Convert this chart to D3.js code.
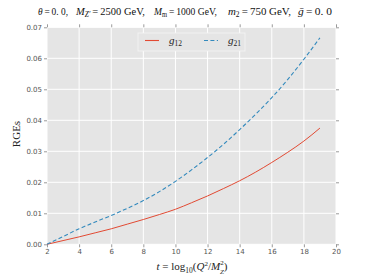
<!DOCTYPE html>
<html><head><meta charset="utf-8">
<script src="https://cdn.jsdelivr.net/npm/d3@7"></script>
<style>body{margin:0;background:#fff}svg{display:block}</style>
</head><body><svg id="c" width="374" height="280"></svg>
<script>
const tValues = [2,3,4,5,6,7,8,9,10,11,12,13,14,15,16,17,18,19];
const g12 = [0,0.0012,0.0024,0.0037,0.0050,0.0065,0.0080,0.0096,0.0113,0.0134,0.0156,0.0180,0.0205,0.0233,0.0264,0.0297,0.0333,0.0375];
const g21 = [0,0.0025,0.0050,0.0072,0.0093,0.0116,0.0141,0.0170,0.0203,0.0240,0.0280,0.0323,0.0370,0.0420,0.0473,0.0532,0.0597,0.0666];
const xTicks = [2,4,6,8,10,12,14,16,18,20];
const yTicks = [0,0.01,0.02,0.03,0.04,0.05,0.06,0.07];
const seriesNames = ["12","21"];
const colors = ["#E24A33","#348ABD"];

const svg = d3.select("#c");
const L=47,R=336,T=27.3,B=244.3;
const x = d3.scaleLinear().domain([2,20]).range([L,R]);
const y = d3.scaleLinear().domain([0,0.07]).range([B,T]);

svg.append("rect").attr("x",L).attr("y",T).attr("width",R-L).attr("height",B-T).attr("fill","#E5E5E5");
const g = svg.append("g");
g.selectAll(".vg").data(xTicks).join("line").attr("x1",d=>x(d)).attr("x2",d=>x(d)).attr("y1",T).attr("y2",B).attr("stroke","#fff").attr("stroke-width",1);
g.selectAll(".hg").data(yTicks).join("line").attr("y1",d=>y(d)).attr("y2",d=>y(d)).attr("x1",L).attr("x2",R).attr("stroke","#fff").attr("stroke-width",1);

function styleAxis(sel){
  sel.select(".domain").remove();
  sel.selectAll(".tick line").attr("stroke","#9a9a9a");
  sel.selectAll(".tick text").attr("fill","#555").style("font-family","'DejaVu Sans',sans-serif").style("font-size","7px");
}
svg.append("g").attr("transform",`translate(0,${B})`).call(d3.axisBottom(x).tickValues(xTicks).tickSize(3).tickPadding(2).tickFormat(d3.format("d"))).call(styleAxis);
svg.append("g").attr("transform",`translate(0,${T})`).call(d3.axisTop(x).tickValues(xTicks).tickSize(3).tickFormat("")).call(styleAxis);
svg.append("g").attr("transform",`translate(${L},0)`).call(d3.axisLeft(y).tickValues(yTicks).tickSize(3).tickPadding(2).tickFormat(d3.format(".2f"))).call(styleAxis);
svg.append("g").attr("transform",`translate(${R},0)`).call(d3.axisRight(y).tickValues(yTicks).tickSize(3).tickFormat("")).call(styleAxis);

const line = d3.line().x((d,i)=>x(tValues[i])).y(d=>y(d)).curve(d3.curveMonotoneX);
svg.append("path").datum(g12).attr("d",line).attr("fill","none").attr("stroke",colors[0]).attr("stroke-width",1);
svg.append("path").datum(g21).attr("d",line).attr("fill","none").attr("stroke",colors[1]).attr("stroke-width",1.1).attr("stroke-dasharray","4,2.4");

// legend
const lg = svg.append("g");
lg.append("rect").attr("x",138).attr("y",33).attr("width",107).attr("height",18).attr("fill","#E5E5E5").attr("stroke","#f4f4f4").attr("stroke-width",0.8);
const lx=[145,204];
seriesNames.forEach((n,i)=>{
  lg.append("line").attr("x1",lx[i]).attr("x2",lx[i]+14).attr("y1",40.5).attr("y2",40.5).attr("stroke",colors[i]).attr("stroke-width",1.1).attr("stroke-dasharray",i?"4,2.4":null);
  const t = lg.append("text").attr("x",lx[i]+24).attr("y",44).style("font-family","'Liberation Serif',serif").style("font-size","11px").attr("fill","#222");
  t.append("tspan").style("font-style","italic").text("g");
  t.append("tspan").attr("dy",2).style("font-size","7.5px").text(n);
});

const serif = "'Liberation Serif','DejaVu Serif',serif";
// title, pieces positioned like the reference
const titleY = 14.5;
const ts = "\u2009";
function seg(x0, w, pieces){
  const t = svg.append("text").attr("x",x0).attr("y",titleY).style("font-family",serif).style("font-size","11px").attr("fill","#111")
    .attr("textLength",w).attr("lengthAdjust","spacingAndGlyphs");
  pieces.forEach(p=>{const s=t.append("tspan").text(p.t); if(p.it)s.style("font-style","italic"); if(p.dy)s.attr("dy",p.dy); if(p.fs)s.style("font-size",p.fs);});
}
seg(38,30,[{t:"θ",it:1},{t:ts+"="+ts+"0. 0,"}]);
seg(76,69,[{t:"M",it:1},{t:"Z′",it:1,dy:2.5,fs:"7.5px"},{t:ts+"="+ts+"2500 GeV,",dy:-2.5}]);
seg(154,63,[{t:"M",it:1},{t:"m",dy:2.5,fs:"7.5px"},{t:ts+"="+ts+"1000 GeV,",dy:-2.5}]);
seg(228,63,[{t:"m",it:1},{t:"2",dy:2.5,fs:"7.5px"},{t:ts+"="+ts+"750 GeV,",dy:-2.5}]);
seg(298,34,[{t:"ḡ",it:1},{t:ts+"="+ts+"0. 0"}]);

// y label
svg.append("text").attr("transform","translate(20,134) rotate(-90)").attr("text-anchor","middle").style("font-family",serif).style("font-size","11px").attr("fill","#222").text("RGEs");

// x label
const xl = svg.append("text").attr("x",192).attr("y",270).attr("text-anchor","middle").style("font-family",serif).style("font-size","11px").attr("fill","#222");
function xp(txt,opts={}){const s=xl.append("tspan").text(txt);if(opts.it)s.style("font-style","italic");if(opts.dy)s.attr("dy",opts.dy);if(opts.fs)s.style("font-size",opts.fs);if(opts.dx)s.attr("dx",opts.dx);return s;}
xp("t",{it:1}); xp(" = log"); xp("10",{dy:2.5,fs:"7.5px"}); xp("(",{dy:-2.5}); xp("Q",{it:1}); xp("2",{dy:-4,fs:"7px"}); xp("/",{dy:4}); xp("M",{it:1});
xp("2",{dy:-5,fs:"7px"}); xp("Z",{dy:9,dx:-3.8,fs:"7px",it:1}); xp(")",{dy:-4});
</script></body></html>
